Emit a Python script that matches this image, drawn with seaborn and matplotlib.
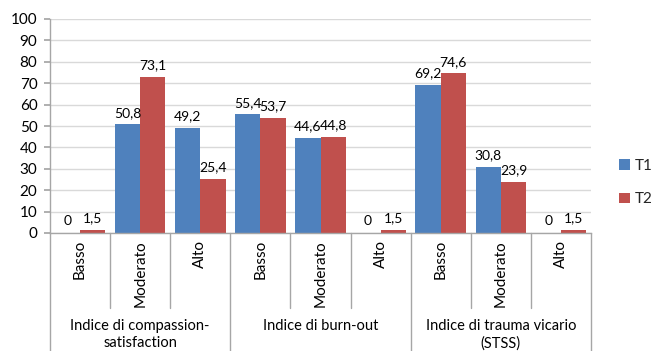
import matplotlib
matplotlib.use("Agg")
import matplotlib.pyplot as plt
import matplotlib.transforms as mtransforms
import seaborn as sns
import pandas as pd

# Levels within each index and the index groups
levels = ["Basso", "Moderato", "Alto"]
groups = ["Indice di compassion-\nsatisfaction", "Indice di burn-out",
          "Indice di trauma vicario\n(STSS)"]
series_names = ["T1", "T2"]

# Percentages per category (3 groups x 3 levels)
t1_values = [0, 50.8, 49.2, 55.4, 44.6, 0, 69.2, 30.8, 0]
t2_values = [1.5, 73.1, 25.4, 53.7, 44.8, 1.5, 74.6, 23.9, 1.5]

colors = ["#4F81BD", "#C0504D"]

cat_keys = [f"{g}|{l}" for g in range(len(groups)) for l in levels]
cat_labels = [l for _ in groups for l in levels]

df = pd.DataFrame({
    "cat": cat_keys * 2,
    "serie": [series_names[0]] * len(cat_keys) + [series_names[1]] * len(cat_keys),
    "val": t1_values + t2_values,
})

sns.set_theme(style="white")
plt.rcParams["font.family"] = ["Lato", "DejaVu Sans"]

fig = plt.figure(figsize=(6.56, 3.51), dpi=100)
ax = fig.add_axes([50 / 656, 1 - 233 / 351, (591 - 50) / 656, (233 - 19) / 351])

sns.barplot(data=df, x="cat", y="val", hue="serie", order=cat_keys,
            hue_order=series_names, palette=colors, width=0.84, gap=0,
            linewidth=0, saturation=1, ax=ax, legend=True)

ax.set_xlim(-0.5, len(cat_keys) - 0.5)
ax.set_ylim(0, 100)
ax.set_yticks(range(0, 101, 10))
ax.set_xlabel("")
ax.set_ylabel("")
ax.yaxis.grid(True, color="#D9D9D9", linewidth=1)
ax.set_axisbelow(True)
for s in ["top", "right"]:
    ax.spines[s].set_visible(False)
for s in ["left", "bottom"]:
    ax.spines[s].set_color("#A6A6A6")
    ax.spines[s].set_linewidth(1)
ax.tick_params(axis="y", length=4, color="#A6A6A6", labelsize=11, pad=5,
               left=True, labelcolor="#000000")
ax.tick_params(axis="x", bottom=False, labelbottom=False)

def fmt(v):
    return "0" if v == 0 else f"{v:.1f}".replace(".", ",")

for cont, vals in zip(ax.containers, [t1_values, t2_values]):
    ax.bar_label(cont, labels=[fmt(v) for v in vals], padding=4, fontsize=10,
                 color="#000000")

# Category axis: rotated level labels and separators
trans = mtransforms.blended_transform_factory(ax.transData, fig.transFigure)
sep_color = "#A6A6A6"
y_axis = 1 - 233 / 351
y_cat_bottom = 1 - 308 / 351
for i, lab in enumerate(cat_labels):
    ax.text(i, 1 - 240 / 351, lab, transform=trans, rotation=90,
            ha="center", va="top", fontsize=11, color="#000000")
for b in range(len(cat_keys) + 1):
    x = b - 0.5
    bottom = 0.0 if b % 3 == 0 else y_cat_bottom
    ax.add_line(plt.Line2D([x, x], [y_axis, bottom], transform=trans,
                           color=sep_color, linewidth=1, clip_on=False))
for g, name in enumerate(groups):
    ax.text(3 * g + 1, 1 - 319 / 351, name, transform=trans, ha="center",
            va="top", fontsize=10.5, color="#000000", linespacing=1.3)

# Legend on the right
handles, labels_ = ax.get_legend_handles_labels()
ax.legend(handles, labels_, loc="center left", bbox_to_anchor=(0.935, 0.48),
          bbox_transform=fig.transFigure, frameon=False, fontsize=11,
          handlelength=0.7, handleheight=0.7, handletextpad=0.3,
          labelspacing=1.3, borderaxespad=0)

fig.savefig("out.png", dpi=100)
